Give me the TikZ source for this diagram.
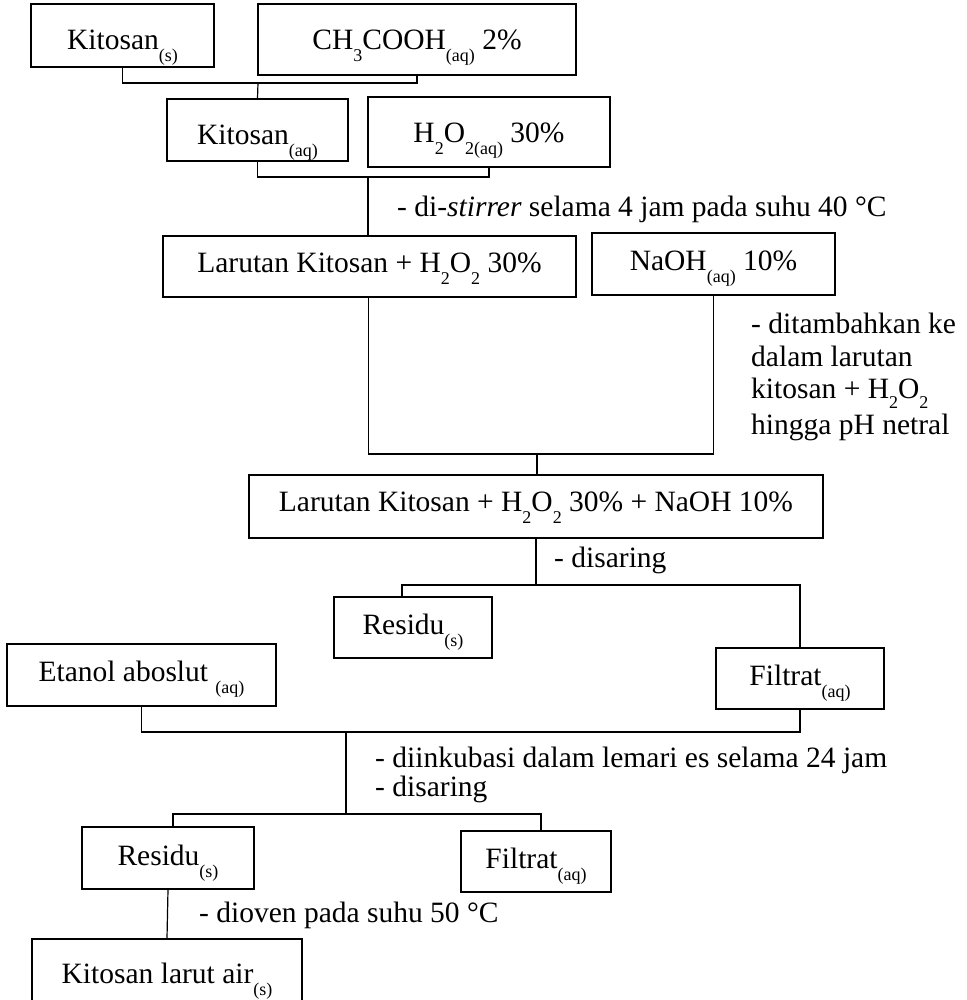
\documentclass[tikz,border=0pt]{standalone}
\usepackage{fontspec}
\setmainfont{Liberation Serif}
\newcommand{\sbx}[1]{\raisebox{-12pt}{\fontsize{18}{18}\selectfont #1}}
\newcommand{\sbn}[1]{\raisebox{-10pt}{\fontsize{18}{18}\selectfont #1}}
\tikzset{
  mainfont/.style={font=\fontsize{29.5}{33}\selectfont},
  boxnode/.style={draw, line width=1.2pt, inner sep=0pt, mainfont, align=center, text depth=8pt},
  note/.style={inner sep=0pt, mainfont, anchor=base west, align=left},
  conn/.style={line width=1.2pt}
}
\begin{document}
\begin{tikzpicture}[x=1pt,y=-1pt]
\useasboundingbox (0,0) rectangle (966,1000);
% row 1
\node[boxnode, minimum width=183pt, minimum height=63pt, text height=37pt] (A) at (122.5,35.5) {Kitosan\sbx{(s)}};
\node[boxnode, minimum width=318pt, minimum height=71pt, text height=29pt] (B) at (417,39.5) {CH\sbx{3}COOH\sbx{(aq)} 2\%};
% row 2
\node[boxnode, minimum width=181pt, minimum height=62pt, text height=38pt] (C) at (257.5,130) {Kitosan\sbx{(aq)}};
\node[boxnode, minimum width=242pt, minimum height=70pt, text height=30pt] (D) at (489,132) {H\sbx{2}O\sbx{2(aq)} 30\%};
% row 3
\node[boxnode, minimum width=413pt, minimum height=61pt, text height=19pt] (E) at (369.5,266.5) {Larutan Kitosan + H\sbx{2}O\sbx{2} 30\%};
\node[boxnode, minimum width=243pt, minimum height=62pt, text height=20pt] (F) at (713.5,264) {NaOH\sbx{(aq)} 10\%};
% big box
\node[boxnode, minimum width=574pt, minimum height=63pt, text height=17pt] (G) at (536,506.5) {Larutan Kitosan + H\sbx{2}O\sbx{2} 30\% + NaOH 10\%};
% after filtering
\node[boxnode, minimum width=158pt, minimum height=61pt, text height=21pt] (R1) at (413,627.5) {Residu\sbx{(s)}};
\node[boxnode, minimum width=269pt, minimum height=62pt, text height=20pt] (Et) at (141.5,675) {Etanol aboslut \sbx{(aq)}};
\node[boxnode, minimum width=168pt, minimum height=61pt, text height=21pt] (F1) at (800,678.5) {Filtrat\sbx{(aq)}};
% after incubation
\node[boxnode, minimum width=172pt, minimum height=62pt, text height=22pt] (R2) at (168,858) {Residu\sbx{(s)}};
\node[boxnode, minimum width=150pt, minimum height=61pt, text height=21pt] (F2) at (536,861.5) {Filtrat\sbx{(aq)}};
\node[boxnode, minimum width=270pt, minimum height=62pt, text height=34pt] (K) at (167,970) {Kitosan larut air\sbx{(s)}};
% notes
\node[note] (n1) at (397,217) {- di-\textit{stirrer} selama 4 jam pada suhu 40 °C};
\node[note] (n2a) at (751,333) {- ditambahkan ke};
\node[note] (n2b) at (751,366) {dalam larutan};
\node[note] (n2c) at (751,398) {kitosan + H\sbn{2}O\sbn{2}};
\node[note] (n2d) at (751,434) {hingga pH netral};
\node[note] (n3) at (554,567) {- disaring};
\node[note] (n4a) at (375,767) {- diinkubasi dalam lemari es selama 24 jam};
\node[note] (n4b) at (375,796) {- disaring};
\node[note] (n5) at (199,922) {- dioven pada suhu 50 °C};
% junctions
\coordinate (j1) at (258,83);
\coordinate (j2) at (368,177);
\coordinate (j3) at (537,454);
\coordinate (j4) at (536,585);
\coordinate (j5) at (346,732);
\coordinate (j6) at (346,814);
% connectors
\draw[conn] (A.south) -- (A.south |- j1) -- (B.south |- j1) -- (B.south);
\draw[conn] (j1) -- (C.north);
\draw[conn] (C.south) -- (C.south |- j2) -- (D.south |- j2) -- (D.south);
\draw[conn] (j2) -- (j2 |- E.north);
\draw[conn] ([xshift=-1pt]E.south) -- ([xshift=-1pt]E.south |- j3) -- (F.south |- j3) -- (F.south);
\draw[conn] (j3) -- (j3 |- G.north);
\draw[conn] (G.south) -- (j4);
\draw[conn] ([xshift=-11pt]R1.north) |- (F1.north |- j4) -- (F1.north);
\draw[conn] (Et.south) |- (F1.south |- j5) -- (F1.south);
\draw[conn] (j5) -- (j6);
\draw[conn] ([xshift=5pt]R2.north) |- ([xshift=5pt]F2.north |- j6) -- ([xshift=5pt]F2.north);
\draw[conn] (R2.south) -- (K.north);
\end{tikzpicture}
\end{document}
